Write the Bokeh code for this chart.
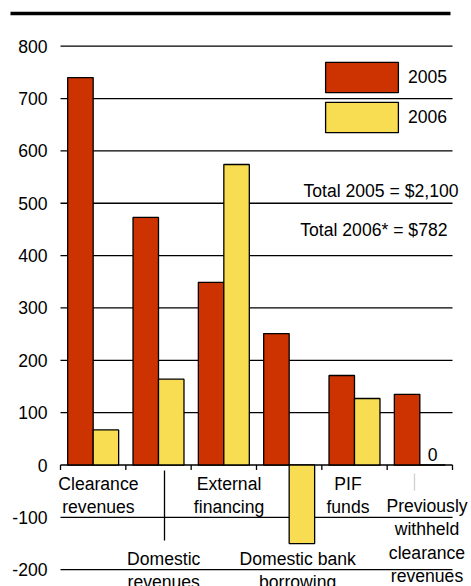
from bokeh.plotting import figure
from bokeh.models import Range1d, Legend, LegendItem
from bokeh.core.properties import value
from bokeh.embed import file_html
from bokeh.resources import INLINE

# ---- data -------------------------------------------------------------
categories = [
    "Clearance\nrevenues",
    "Domestic\nrevenues",
    "External\nfinancing",
    "Domestic bank\nborrowing",
    "PIF\nfunds",
    "Previously\nwithheld\nclearance\nrevenues",
]
values_2005 = [740, 473, 349, 251, 171, 135]
values_2006 = [67, 164, 574, -150, 127, 0]
series_names = ["2005", "2006"]
y_ticks = [-200, -100, 0, 100, 200, 300, 400, 500, 600, 700, 800]
totals_text = ["Total 2005 = $2,100", "Total 2006* = $782"]

# ---- layout -----------------------------------------------------------
W, H = 471, 586
BAND_LEFT, BAND_RIGHT = 60, 452        # pixel extent of the category band
ZERO_PX = 464.5                         # pixel row of the zero line
PX_PER_UNIT = 0.5235                    # pixels per $ million
n = len(categories)
px_per_cat = (BAND_RIGHT - BAND_LEFT) / n
x_start = -0.5 - BAND_LEFT / px_per_cat
x_end = x_start + W / px_per_cat
y_end = ZERO_PX / PX_PER_UNIT
y_start = y_end - H / PX_PER_UNIT


def dx(px):
    """canvas x pixel -> data x"""
    return x_start + px / px_per_cat


def dy(py):
    """canvas y pixel -> data y"""
    return y_end - py / PX_PER_UNIT


FONT_NAME = "Liberation Sans"
FONT = value(FONT_NAME)
FS = "17.6px"
RED = "#CC3300"
YELLOW = "#F8DC52"
BAR_W = 0.39

p = figure(
    width=W, height=H,
    x_range=Range1d(x_start, x_end), y_range=Range1d(y_start, y_end),
    x_axis_location=None, y_axis_location=None,
    toolbar_location=None, output_backend="svg",
    min_border=0,
)
p.grid.visible = False
p.outline_line_color = None
p.background_fill_color = "white"
p.border_fill_color = "white"

# horizontal rules at every tick
p.segment(x0=[-0.5] * len(y_ticks), x1=[n - 0.5] * len(y_ticks),
          y0=y_ticks, y1=y_ticks, line_color="black", line_width=1.3)

# tick labels on the value axis
p.text(x=[dx(47)] * len(y_ticks), y=y_ticks, text=[str(t) for t in y_ticks],
       text_font=FONT, text_font_size=FS, text_align="right",
       text_baseline="middle", text_color="black")

# small downward ticks on the zero line between categories
bounds = [i - 0.5 for i in range(n + 1)]
p.segment(x0=bounds, x1=bounds, y0=[0] * len(bounds),
          y1=[-5 / PX_PER_UNIT] * len(bounds), line_color="black", line_width=1.3)

# bars
xs = list(range(n))
r05 = p.vbar(x=[x - BAR_W / 2 for x in xs], top=values_2005, bottom=0, width=BAR_W,
             fill_color=RED, line_color="black", line_width=1.3)
r06 = p.vbar(x=[x + BAR_W / 2 for x in xs], top=values_2006, bottom=0, width=BAR_W,
             fill_color=YELLOW, line_color="black", line_width=1.3)

# value note for the empty 2006 bar
zero_idx = [i for i, v in enumerate(values_2006) if v == 0]
p.text(x=[i + BAR_W / 2 for i in zero_idx],
       y=[values_2006[i] + 11 / PX_PER_UNIT for i in zero_idx],
       text=[str(values_2006[i]) for i in zero_idx],
       text_font=FONT, text_font_size=FS, text_align="center",
       text_baseline="middle", text_color="black")

# category labels, staggered on two rows
label_shift = [0.08, 0.08, 0.08, 0.13, -0.1, 0.11]
label_top_px = [473, 548, 473, 548, 473, 495]
p.text(x=[i + s for i, s in zip(xs, label_shift)],
       y=[dy(t) for t in label_top_px], text=categories,
       text_font=FONT, text_font_size=FS, text_align="center",
       text_baseline="top", text_line_height=1.18, text_color="black")

# leader lines to lower-row labels
p.segment(x0=[dx(164)], x1=[dx(164)], y0=[dy(470)], y1=[dy(540)],
          line_color="black", line_width=1.3)
p.segment(x0=[dx(414)], x1=[dx(414)], y0=[dy(473)], y1=[dy(490)],
          line_color="#cfcfcf", line_width=1.3)

# totals
p.text(x=[dx(458), dx(447)], y=[dy(190), dy(229)], text=totals_text,
       text_font=FONT, text_font_size=FS, text_align="right",
       text_baseline="middle", text_color="black")

# heavy rule across the top
p.segment(x0=[dx(10)], x1=[dx(450)], y0=[dy(13)], y1=[dy(13)],
          line_color="black", line_width=3.5)

# legend swatches are drawn with a 10% inset inside the glyph box
legend = Legend(
    items=[LegendItem(label=series_names[0], renderers=[r05]),
           LegendItem(label=series_names[1], renderers=[r06])],
    location=(316, H - 136),
    glyph_width=91, glyph_height=38, spacing=2, padding=0, margin=0,
    label_standoff=1, border_line_color=None, background_fill_alpha=0,
    label_text_font=FONT_NAME, label_text_font_size=FS,
    label_text_color="black",
)
p.add_layout(legend)

open("out.html", "w").write(file_html(p, INLINE))
